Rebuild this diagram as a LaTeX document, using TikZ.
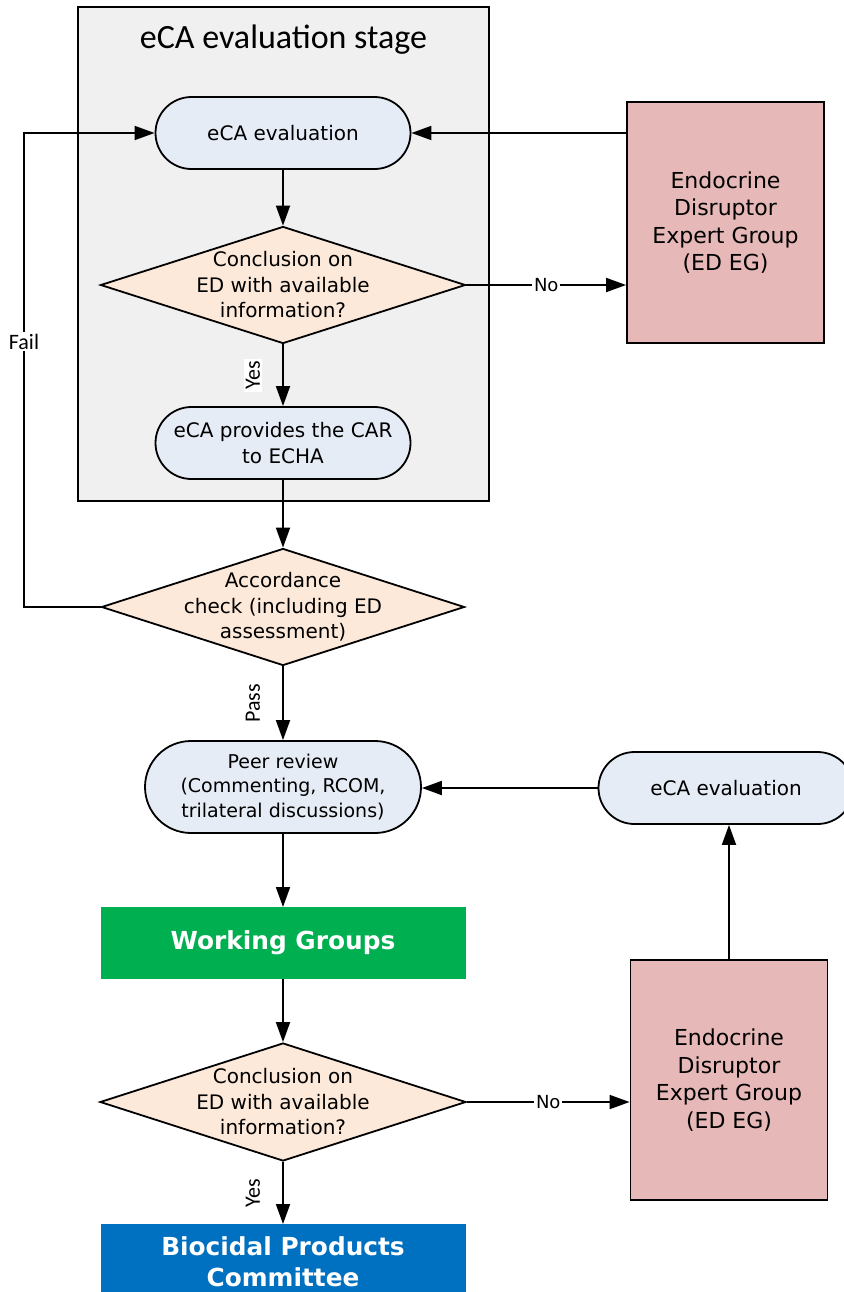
\documentclass[tikz,border=0pt]{standalone}
\usepackage{fontspec}
\setmainfont{DejaVu Sans}
\newfontfamily\calib{Carlito}
\usetikzlibrary{shapes.geometric,arrows.meta}
\definecolor{stagegray}{RGB}{240,240,240}
\definecolor{pillblue}{RGB}{230,236,246}
\definecolor{peach}{RGB}{252,233,218}
\definecolor{edpink}{RGB}{230,184,183}
\definecolor{wggreen}{RGB}{0,176,80}
\definecolor{bpcblue}{RGB}{0,112,192}
\begin{document}
\begin{tikzpicture}[x=0.5pt,y=-0.5pt,
  every node/.style={align=center},
  pill/.style={draw=black,line width=0.9pt,fill=pillblue,rounded corners=18pt,
    minimum width=127.5pt,minimum height=36pt,inner sep=0pt,
    font=\fontsize{10}{12.75}\selectfont},
  dia/.style={draw=black,diamond,line width=0.9pt,fill=peach,inner sep=0pt,
    minimum width=182.5pt,minimum height=58.5pt},
  diatext/.style={font=\fontsize{10}{12.75}\selectfont,inner sep=0pt},
  edeg/.style={draw=black,line width=0.9pt,fill=edpink,minimum width=98.5pt,
    minimum height=120.5pt,inner sep=0pt,font=\fontsize{11}{13.75}\selectfont},
  solidbox/.style={line width=0pt,minimum width=182.5pt,inner sep=0pt,
    text=white,font=\bfseries\fontsize{12.4}{15.5}\selectfont},
  arr/.style={-{Triangle[length=10pt,width=7pt]},line width=0.9pt},
  lbl/.style={font=\calib\fontsize{11}{12}\selectfont,fill=white,inner sep=1pt},
  nolbl/.style={font=\fontsize{9}{10}\selectfont,fill=white,inner sep=1pt}]
\clip (0,0) rectangle (844,1292);
\fill[white] (0,0) rectangle (844,1292);

% container
\node[draw=black,line width=0.9pt,fill=stagegray,minimum width=205.5pt,
  minimum height=247pt,inner sep=0pt] (stage) at (283.5,254) {};
\node[font=\calib\fontsize{17}{20}\selectfont] (title) at (283.5,40) {eCA evaluation stage};

% main column
\node[pill] (eval1) at (283,133) {eCA evaluation};
\node[dia,label={[diatext]center:Conclusion on\\ED with available\\information?}] (d1) at (283,285) {};
\node[pill] (car) at (283,443) {eCA provides the CAR\\to ECHA};
\node[dia,minimum width=181.5pt,label={[diatext]center:Accordance\\check (including ED\\assessment)}] (d2) at (283,607) {};
\node[pill,minimum width=138pt,minimum height=46pt,rounded corners=23pt,
  font=\fontsize{9.5}{12.25}\selectfont] (peer) at (283,787) {Peer review\\(Commenting, RCOM,\\trilateral discussions)};
\node[solidbox,fill=wggreen,minimum height=36pt] (wg) at (283,943) {Working Groups};
\node[dia,minimum width=183pt,minimum height=59pt,label={[diatext]center:Conclusion on\\ED with available\\information?}] (d3) at (283,1102) {};
\node[solidbox,fill=bpcblue,minimum height=38pt] (bpc) at (283,1262) {Biocidal Products\\Committee};

% right column
\node[edeg] (edeg1) at (725.5,222.5) {Endocrine\\Disruptor\\Expert Group\\(ED EG)};
\node[pill] (eval2) at (726,788) {eCA evaluation};
\node[edeg,minimum height=120pt] (edeg2) at (729,1080) {Endocrine\\Disruptor\\Expert Group\\(ED EG)};

% connectors
\coordinate (failc) at (24,607);
\draw[arr] (eval1) -- (d1);
\draw[arr] (d1) -- (car) node[midway,xshift=-15pt,rotate=90,lbl] {Yes};
\draw[arr] (d1.east) -- (edeg1.west |- d1.east) node[midway,nolbl] {No};
\draw[arr] (eval1.east -| edeg1.west) -- (eval1.east);
\draw[arr] (car) -- (d2);
\draw[arr] (d2.west) -- (failc) |- (eval1.west) node[pos=0.28,lbl] {Fail};
\draw[arr] (d2) -- (peer) node[midway,xshift=-15pt,rotate=90,lbl] {Pass};
\draw[arr] (eval2.west) -- (peer.east |- eval2.west);
\draw[arr] (peer) -- (wg);
\draw[arr] (wg) -- (d3);
\draw[arr] (d3.east) -- (edeg2.west |- d3.east) node[midway,nolbl] {No};
\draw[arr] (edeg2.north) -- (eval2.south -| edeg2.north);
\draw[arr] (d3) -- (bpc) node[midway,xshift=-15pt,rotate=90,lbl] {Yes};
\end{tikzpicture}
\end{document}
